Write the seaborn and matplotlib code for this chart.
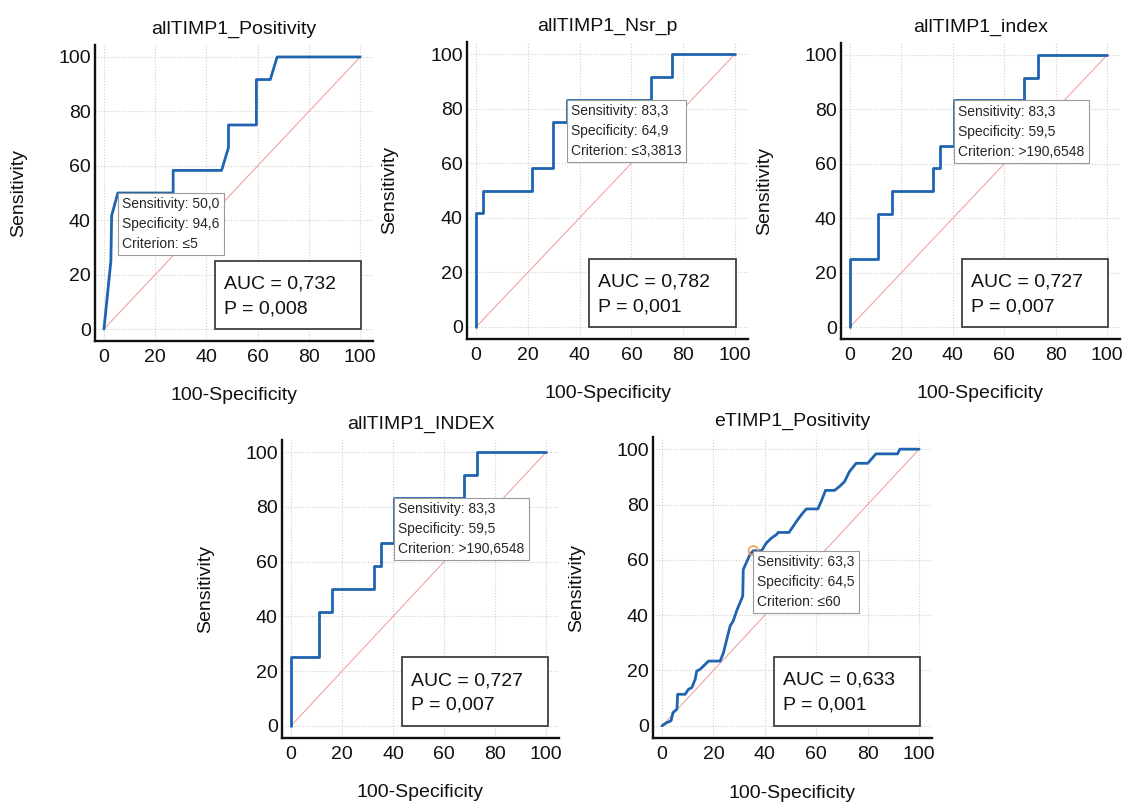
import matplotlib
matplotlib.use("Agg")
import matplotlib.pyplot as plt
import numpy as np
import pandas as pd
import seaborn as sns
from matplotlib.patches import Rectangle
from matplotlib.ticker import MultipleLocator

sns.set_style("white")
plt.rcParams["font.family"] = ["Liberation Sans", "DejaVu Sans"]

# ---------------- data ----------------
titles = ["allTIMP1_Positivity", "allTIMP1_Nsr_p", "allTIMP1_index",
          "allTIMP1_INDEX", "eTIMP1_Positivity"]

fpr1 = [0, 2.7, 3.0, 5.4, 27.0, 27.0, 45.9, 48.6, 48.6, 59.5, 59.5, 64.9, 67.6, 100]
tpr1 = [0, 25, 41.7, 50, 50, 58.3, 58.3, 66.7, 75, 75, 91.7, 91.7, 100, 100]

fpr2 = [0, 0, 2.7, 2.7, 21.6, 21.6, 29.7, 29.7, 35.1, 35.1, 67.6, 67.6, 75.7, 75.7, 100]
tpr2 = [0, 41.7, 41.7, 50, 50, 58.3, 58.3, 75, 75, 83.3, 83.3, 91.7, 91.7, 100, 100]

fpr3 = [0, 0, 10.8, 10.8, 16.2, 16.2, 32.4, 32.4, 35.1, 35.1, 40.5, 40.5, 67.6, 67.6, 73.0, 73.0, 100]
tpr3 = [0, 25, 25, 41.7, 41.7, 50, 50, 58.3, 58.3, 66.7, 66.7, 83.3, 83.3, 91.7, 91.7, 100, 100]

fpr4 = list(fpr3)
tpr4 = list(tpr3)

fpr5 = [0, 1.9, 3.5, 4.3, 5.8, 6.1, 9.0, 10.3, 11.6, 12.9, 13.5, 14.8, 16.1, 18.1, 22.6,
        23.9, 25.2, 26.5, 27.7, 29.0, 31.4, 31.6, 34.2, 35.5, 38.7, 40.6, 42.6, 44.5, 45.2,
        49.4, 52.3, 54.2, 56.1, 60.6, 61.9, 63.6, 67.1, 69.0, 71.0, 72.9, 75.5, 80.0, 83.2,
        91.6, 92.5, 100]
tpr5 = [0, 1.2, 1.8, 4.8, 6.0, 11.4, 11.4, 13.2, 13.8, 16.8, 19.8, 20.4, 21.6, 23.4, 23.4,
        26.4, 31.3, 36.1, 37.9, 41.5, 46.9, 56.5, 61.9, 63.3, 63.3, 66.1, 67.9, 69.1, 69.9,
        69.9, 73.9, 76.3, 78.4, 78.4, 81.1, 85.1, 85.1, 86.5, 88.3, 91.9, 94.9, 94.9, 98.3,
        98.3, 100, 100]

sens = ["50,0", "83,3", "83,3", "83,3", "63,3"]
spec = ["94,6", "64,9", "59,5", "59,5", "64,5"]
crit = ["\u22645", "\u22643,3813", ">190,6548", ">190,6548", "\u226460"]
cut_x = [5.4, 35.1, 40.5, 40.5, 35.5]
cut_y = [50, 83.3, 83.3, 83.3, 63.3]
auc = ["0,732", "0,782", "0,727", "0,727", "0,633"]
pval = ["0,008", "0,001", "0,007", "0,007", "0,001"]

fprs = [fpr1, fpr2, fpr3, fpr4, fpr5]
tprs = [tpr1, tpr2, tpr3, tpr4, tpr5]

# ---------------- layout ----------------
W, H = 1126, 802
fig = plt.figure(figsize=(W / 100, H / 100), dpi=100)
fig.patch.set_facecolor("white")

boxes_px = [(95, 373, 45, 341), (467, 748, 42, 339), (841, 1120, 43, 339),
            (282, 559, 440, 738), (653, 932, 437, 738)]

curve_col = "#1f64b0"
diag_col = "#f2a3a3"
ink = "#111111"

for i in range(5):
    l, r, t, b = boxes_px[i]
    ax = fig.add_axes([l / W, 1 - b / H, (r - l) / W, (b - t) / H])
    ax.set_facecolor("white")

    diag = pd.DataFrame({"x": [0, 100], "y": [0, 100]})
    sns.lineplot(data=diag, x="x", y="y", ax=ax, color=diag_col, lw=0.8,
                 sort=False, estimator=None, zorder=2)
    df = pd.DataFrame({"fpr": fprs[i], "tpr": tprs[i]})
    sns.lineplot(data=df, x="fpr", y="tpr", ax=ax, color=curve_col, lw=2.0,
                 sort=False, estimator=None, zorder=3)

    if i == 4:
        pt = pd.DataFrame({"x": [cut_x[i]], "y": [cut_y[i]]})
        sns.scatterplot(data=pt, x="x", y="y", ax=ax, s=45, facecolor="none",
                        edgecolor="#f0a050", linewidth=1.2, zorder=4)

    ax.set_xlim(-3.5, 105)
    ax.set_ylim(-4.4, 104.4)
    ax.set_xticks(range(0, 101, 20))
    ax.set_yticks(range(0, 101, 20))
    ax.xaxis.set_minor_locator(MultipleLocator(4))
    ax.yaxis.set_minor_locator(MultipleLocator(4))
    ax.tick_params(which="major", direction="in", length=7, width=1.3,
                   labelsize=14, colors=ink)
    ax.tick_params(axis="x", which="major", pad=6)
    ax.tick_params(axis="y", which="major", pad=3)
    ax.tick_params(which="minor", direction="in", length=3.5, width=1.0, colors=ink)
    for s in ["top", "right"]:
        ax.spines[s].set_visible(False)
    for s in ["left", "bottom"]:
        ax.spines[s].set_linewidth(1.7)
        ax.spines[s].set_color(ink)
    ax.grid(True, which="major", ls=":", color="#cfcfcf", lw=0.8, zorder=0)
    ax.set_axisbelow(True)

    ax.set_xlabel("100-Specificity", fontsize=14, color=ink)
    ax.set_ylabel("Sensitivity", fontsize=14, color=ink)
    ax.xaxis.set_label_coords(0.5, -0.155)
    ax.yaxis.set_label_coords(-0.245, 0.5)
    ax.set_title(titles[i], fontsize=14, pad=8, color=ink)

    # AUC box
    ax.add_patch(Rectangle((43.5, 0), 57.0, 25, fc="white", ec="#404040",
                           lw=1.3, zorder=5))
    ax.text(47, 16.5, f"AUC = {auc[i]}", fontsize=14, va="center", ha="left",
            color=ink, zorder=6)
    ax.text(47, 7.5, f"P = {pval[i]}", fontsize=14, va="center", ha="left",
            color=ink, zorder=6)

    # criterion annotation
    txt = f"Sensitivity: {sens[i]}\nSpecificity: {spec[i]}\nCriterion: {crit[i]}"
    ax.annotate(txt, xy=(cut_x[i], cut_y[i]), xytext=(3, -3),
                textcoords="offset points", ha="left", va="top", fontsize=10,
                linespacing=1.55, color="#262626",
                bbox=dict(boxstyle="square,pad=0.3", fc="white", ec="#9a9a9a", lw=0.8),
                zorder=5)

fig.savefig("out.png", dpi=100, facecolor="white")
